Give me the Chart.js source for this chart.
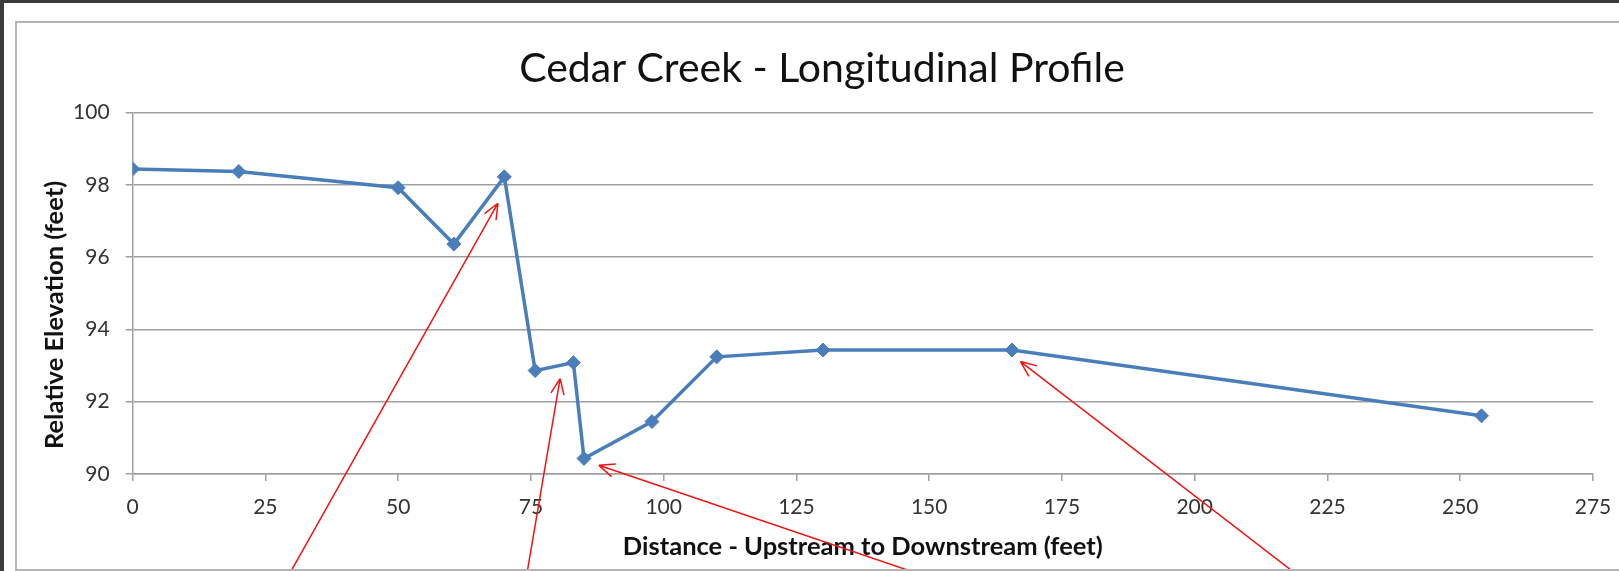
<!DOCTYPE html>
<html>
<head>
<meta charset="utf-8">
<title>Cedar Creek - Longitudinal Profile</title>
<script src="https://cdn.jsdelivr.net/npm/chart.js@4/dist/chart.umd.min.js"></script>
<style>
  html, body { margin: 0; padding: 0; width: 1619px; height: 571px; overflow: hidden; background: #3c3c3c; }
  #feuille { position: absolute; left: 4px; top: 3px; width: 1700px; height: 700px; background: #fff; }
  #cadre { position: absolute; left: 15px; top: 21px; width: 1700px; height: 550px; box-sizing: border-box; border: 2px solid #b4b4b4; }
  #zone { position: absolute; left: 15px; top: 21px; width: 1614px; height: 548px; }
</style>
</head>
<body>
<div id="feuille"></div>
<div id="cadre"></div>
<div id="zone"><canvas id="profil"></canvas></div>
<script>
// Relevé du lit : distance depuis l'amont (pieds) et altitude relative (pieds)
const distances = [0, 20, 50, 60.5, 70, 75.8, 83, 85, 97.8, 110, 130, 165.6, 254];
const altitudes = [98.44, 98.37, 97.92, 96.36, 98.22, 92.86, 93.08, 90.43, 91.45, 93.24, 93.43, 93.43, 91.61];

// Flèches rouges d'annotation : pointe et queue, en coordonnées des axes
const flechesPointe = [[68.8, 97.49], [80.5, 92.64], [87.8, 90.24], [167.2, 93.11]];
const flechesQueue = [[29.4, 87.2], [74.2, 87.2], [148.8, 87.2], [219.4, 87.2]];

const gris = "#a0a0a0";
const police = "Lato";

const pluginFleches = {
  id: "fleches",
  afterDraw(chart) {
    const { ctx, scales: { x, y } } = chart;
    ctx.save();
    ctx.strokeStyle = "#f01414";
    ctx.lineWidth = 1.5;
    flechesPointe.forEach(([px, py], i) => {
      const [qx, qy] = flechesQueue[i];
      const x1 = x.getPixelForValue(qx), y1 = y.getPixelForValue(qy);
      const x2 = x.getPixelForValue(px), y2 = y.getPixelForValue(py);
      const angle = Math.atan2(y2 - y1, x2 - x1);
      ctx.beginPath();
      ctx.moveTo(x1, y1);
      ctx.lineTo(x2, y2);
      // pointe ouverte en V
      [0.4, -0.4].forEach(d => {
        ctx.moveTo(x2, y2);
        ctx.lineTo(x2 - 17 * Math.cos(angle + d), y2 - 17 * Math.sin(angle + d));
      });
      ctx.stroke();
    });
    ctx.restore();
  }
};

new Chart(document.getElementById("profil"), {
  type: "line",
  data: {
    datasets: [{
      data: distances.map((d, i) => ({ x: d, y: altitudes[i] })),
      borderColor: "#4a7ebb",
      backgroundColor: "#4a7ebb",
      borderWidth: 3.5,
      pointStyle: "rectRot",
      pointRadius: 7,
      pointBorderWidth: 1,
      tension: 0
    }]
  },
  options: {
    responsive: true,
    maintainAspectRatio: false,
    animation: false,
    // marges égales à gauche et à droite pour que le titre soit centré sur le cadre
    layout: { padding: { left: 36, right: 36 } },
    plugins: {
      legend: { display: false },
      tooltip: { enabled: false },
      title: {
        display: true,
        text: "Cedar Creek - Longitudinal Profile",
        color: "#111",
        font: { family: police, size: 41, weight: "normal", lineHeight: 1.2 },
        padding: { top: 23, bottom: 19.3 }
      }
    },
    scales: {
      x: {
        type: "linear",
        min: 0,
        max: 275,
        afterFit: s => { s.height = 95; },
        ticks: { stepSize: 25, padding: 14, color: "#333", font: { family: police, size: 21 } },
        grid: { drawOnChartArea: false, drawTicks: true, tickLength: 7, color: gris, lineWidth: 1.5 },
        border: { display: true, color: gris, width: 1.5 },
        title: {
          display: true,
          text: "Distance - Upstream to Downstream (feet)",
          color: "#111",
          font: { family: police, size: 25.5, weight: "bold", lineHeight: 1.2 },
          padding: { bottom: 7 }
        }
      },
      y: {
        min: 90,
        max: 100,
        afterFit: s => { s.width = 81.6; },
        ticks: { stepSize: 2, padding: 16, color: "#333", font: { family: police, size: 21 } },
        grid: { color: gris, lineWidth: 1.5, tickLength: 7 },
        border: { display: true, color: gris, width: 1.5 },
        title: {
          display: true,
          // les espaces finales descendent un peu le titre le long de l'axe
          text: "Relative Elevation (feet)" + " ".repeat(7),
          color: "#111",
          font: { family: police, size: 25.5, weight: "bold", lineHeight: 1 },
          padding: { top: -9 }
        }
      }
    }
  },
  plugins: [pluginFleches]
});
</script>
</body>
</html>
